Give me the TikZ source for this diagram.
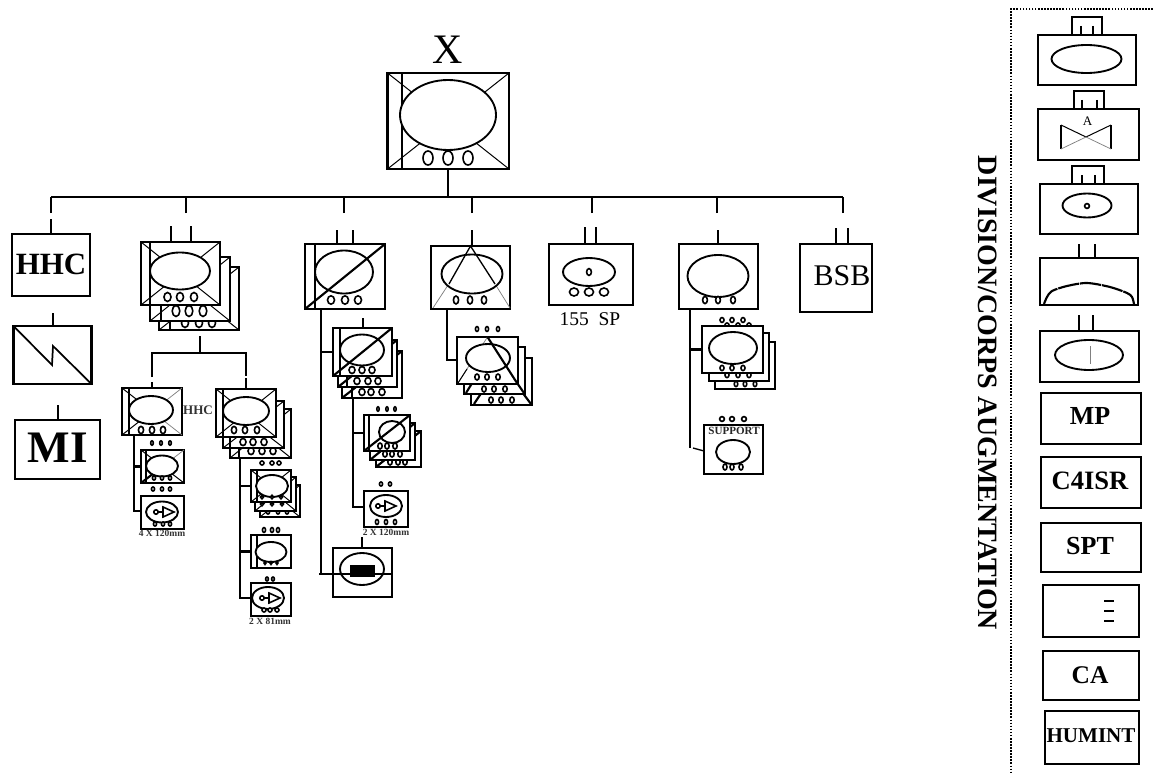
\documentclass[tikz,border=0pt]{standalone}
\usepackage{fontspec}
\setmainfont{Liberation Serif}
\newcommand{\fz}[1]{\fontsize{#1}{#1}\selectfont}
\tikzset{
  boxst/.style={draw=black,fill=white,line width=1.6pt,inner sep=0pt,outer sep=0pt},
  ln/.style={draw=black,line width=1.6pt},
  thinl/.style={draw=black,line width=.75pt},
  greyl/.style={draw=black!50,line width=.55pt},
  sym/.style={draw=black,fill=white,line width=1.4pt},
  ring/.style={draw=black,fill=white,line width=1.2pt},
  lbl/.style={inner sep=0pt,outer sep=0pt,text=black},
  bl/.style={lbl,font=\bfseries},
}
\newcommand{\bx}[5]{%
  \pgfmathsetmacro\bw{(#4-#2)*.75}\pgfmathsetmacro\bh{(#5-#3)*.75}%
  \pgfmathsetmacro\bcx{(#2+#4)/2}\pgfmathsetmacro\bcy{(#3+#5)/2}%
  \node[boxst,minimum width=\bw pt,minimum height=\bh pt] (#1) at (\bcx,\bcy) {};}
\newcommand{\el}[4]{\draw[sym] (#1,#2) ellipse [x radius=#3,y radius=#4];}
\newcommand{\ooo}[4]{\foreach \oox in {#1} {\draw[ring] (\oox,#2) ellipse [x radius=#3,y radius=#4];}}
% corner-to-corner cross in a box node
\newcommand{\xd}[1]{\draw[thinl] (#1.north west) -- (#1.south east) (#1.north east) -- (#1.south west);}
\newcommand{\slsh}[1]{\draw[ln] (#1.south west) -- (#1.north east);}
\newcommand{\vbar}[2]{\coordinate (vb) at (#2,0); \draw[ln] (vb |- #1.north) -- (vb |- #1.south);}
\newcommand{\mortar}[2]{%
  \draw[ln,line width=1.2pt] (#1-6,#2) circle [radius=2.2];
  \draw[ln,line width=1.2pt] (#1-3.5,#2) -- (#1+2,#2);
  \draw[ln,line width=1.2pt] (#1+1,#2-5) -- (#1+12,#2) -- (#1+1,#2+5) -- cycle;}
\begin{document}
\begin{tikzpicture}[x=.75pt,y=-.75pt]
\useasboundingbox (0,0) rectangle (1153,774);

% ---------- commander
\node[lbl,font=\fz{31.5}] (xmark) at (447.5,50) {X};
\bx{cmd}{387.5}{73}{509}{169}
\xd{cmd}
\vbar{cmd}{402}
\el{448}{115}{48}{35}
\ooo{428,448,468}{158}{5}{7}

% ---------- bus
\coordinate (busL) at (51,197);
\coordinate (busR) at (843,197);
\draw[ln] (busL) -- (busR);
\draw[ln] (cmd.south) -- (cmd.south |- busL);
\foreach \dn/\dx in {a/51,b/186,c/344,d/472,e/592,f/717,g/843} {
  \coordinate (drop\dn) at (\dx,213);
  \draw[ln] (drop\dn) -- (drop\dn |- busL);
}

% ---------- HHC / signal / MI
\bx{hhc}{12}{234}{90}{296}
\node[bl,font=\bfseries\fz{23.2}] (hhctxt) at (51,264) {HHC};
\coordinate (s1) at (51,219); \draw[ln] (s1) -- (s1 |- hhc.north);
\bx{sig}{13.5}{326}{91.5}{384}
\draw[ln,line width=1.3pt] (sig.north west) -- (52,365) -- (53,346) -- (sig.south east);
\coordinate (s2) at (53,313); \draw[ln] (s2) -- (s2 |- sig.north);
\bx{mi}{15}{420}{100}{479}
\node[bl,font=\bfseries\fz{33.8}] (mitxt) at (57.5,448) {MI};
\coordinate (s3) at (58,405); \draw[ln] (s3) -- (s3 |- mi.north);

% ---------- stack 2
\bx{b3}{159}{267}{239}{330} \xd{b3} \vbar{b3}{170}
\ooo{185,199,212}{323}{3.5}{4.5}
\bx{b2}{150}{257}{230}{321} \xd{b2} \vbar{b2}{161}
\ooo{176,189,203}{311}{3.8}{5.5}
\bx{b1}{141}{242}{220}{305} \xd{b1} \vbar{b1}{150}
\el{180}{271}{30}{18.5}
\ooo{167.5,180,194}{297}{3.5}{4.5}
\foreach \sx in {171,191} {\coordinate (sb) at (\sx,226); \draw[ln] (sb) -- (sb |- b1.north);}
\coordinate (stb) at (200,336);
\coordinate (stbj) at (200,353);
\coordinate (dbL) at (152,377);
\coordinate (dbR) at (246,376);
\draw[ln] (stb) -- (stbj);
\draw[ln] (dbL) -- (dbL |- stbj) -- (dbR |- stbj) -- (dbR);

% ---------- box A (HHC)
\bx{ha}{122}{388}{182}{435}
\draw[thinl] (ha.north west) -- (ha.center) (ha.south west) -- (ha.center);
\draw[greyl] (ha.north east) -- (ha.center) (ha.center) -- (ha.south east);
\vbar{ha}{129}
\el{151}{410}{22}{14}
\ooo{141,152,163}{430}{2.6}{3.6}
\node[bl,font=\bfseries\fz{9.8},text=black!80] (hatxt) at (198,410) {HHC};
\coordinate (sha) at (152,382); \draw[ln] (sha) -- (sha |- ha.north);
\coordinate (shb) at (246,378);

\bx{ha1}{141}{450}{184}{483}
\draw[thinl] (ha1.north west) -- (ha1.center) (ha1.center) -- (ha1.south east);
\draw[ln] (ha1.south west) -- (ha1.center);
\draw[greyl] (ha1.center) -- (ha1.north east);
\vbar{ha1}{146}
\el{162}{466}{16}{10.5}
\ooo{154,162,170}{478}{1.6}{2}
\ooo{152,161,170}{443}{1.3}{2.2}
\bx{ha2}{141}{496}{184}{529}
\el{162}{512}{16}{10.5}
\mortar{162}{512}
\ooo{155,163,170}{524}{1.6}{2}
\ooo{153,162,170}{489}{1.6}{2}
\node[bl,font=\bfseries\fz{7.1},text=black!80] (ha2txt) at (162,533.5) {4 X 120mm};
\coordinate (stA) at (134,511);
\draw[ln] (stA |- ha.south) -- (stA) -- (stA -| ha2.west);
\draw[ln] (stA |- ha1.west) -- (ha1.west);

% ---------- stack B
\bx{hb3}{230}{409}{291}{458} \xd{hb3} \vbar{hb3}{239}
\ooo{251,262,273}{451}{3}{3.6}
\bx{hb2}{223}{401}{284}{448} \xd{hb2} \vbar{hb2}{230}
\ooo{243,253,264}{442}{3}{3.6}
\bx{hb1}{216}{389}{276}{437} \xd{hb1} \vbar{hb1}{223}
\el{246}{411}{23}{14}
\ooo{234,245,257}{430}{2.6}{3.6}
\draw[ln] (shb) -- (shb |- hb1.north);

\bx{hc3}{260}{485}{300}{517} \xd{hc3}
\ooo{268,278,287}{512}{1.6}{2}
\bx{hc2}{255}{477}{296}{511} \xd{hc2}
\ooo{262,272,282}{504}{1.5}{1.8}
\bx{hc1}{251}{470}{291}{502} \xd{hc1} \vbar{hc1}{257}
\el{272}{486}{16}{11}
\ooo{262,272,281}{497}{1.5}{1.8}
\ooo{262,272,279}{463}{2}{2}
\bx{hd}{251}{535}{291}{568} \vbar{hd}{257}
\el{271}{552}{15.5}{10}
\ooo{265,271,277}{563}{1}{1.4}
\ooo{264,272,278}{530}{1.6}{2.4}
\bx{he}{251}{583}{291}{616}
\el{268}{598}{16}{11}
\mortar{268}{598}
\ooo{264,270,277}{610}{2}{2}
\ooo{267,273}{579}{1.4}{2}
\node[bl,font=\bfseries\fz{7.1},text=black!80] (hetxt) at (270,621) {2 X 81mm};
\coordinate (stB) at (240,598);
\draw[ln] (stB |- hb3.south) -- (stB) -- (stB -| he.west);
\draw[ln] (stB |- hc1.west) -- (hc1.west);
\draw[ln] (stB |- hd.west) -- (hd.west);

% ---------- column 3
\bx{c1}{305}{244}{385}{309} \vbar{c1}{315}
\el{344}{272}{29}{21.5}
\slsh{c1}
\ooo{331,345,358}{300}{3.5}{4.2}
\foreach \sx in {337,353} {\coordinate (sc) at (\sx,230); \draw[ln] (sc) -- (sc |- c1.north);}

\bx{cs3}{342}{351}{402}{398} \slsh{cs3} \vbar{cs3}{352}
\ooo{362,371,382}{392}{3}{3.5}
\bx{cs2}{338}{340}{397}{387} \slsh{cs2} \vbar{cs2}{347}
\ooo{357,368,378}{381}{3}{3.5}
\bx{cs1}{333}{328}{392}{376} \vbar{cs1}{340}
\el{362}{350}{22}{15.5}
\slsh{cs1}
\ooo{352,362,372}{370}{3}{3.5}
\coordinate (scs) at (363,318); \draw[ln] (scs) -- (scs |- cs1.north);

\bx{cd3}{376}{431}{421}{467} \slsh{cd3}
\ooo{390,398,405}{462}{2.2}{3}
\bx{cd2}{370}{423}{415}{460} \slsh{cd2}
\ooo{385,392,400}{454}{2.2}{3}
\bx{cd1}{364}{415}{410}{451} \vbar{cd1}{369}
\el{392}{432}{13}{11}
\slsh{cd1}
\ooo{380,387,395}{446}{2.2}{3}
\ooo{378,387,395}{409}{1.2}{2.2}

\bx{ce}{364}{491}{408}{527}
\el{386}{506}{16}{11}
\mortar{384}{506}
\ooo{377,386,395}{522}{1.6}{2.5}
\ooo{381,390}{484}{1.6}{2}
\node[bl,font=\bfseries\fz{7.1},text=black!80] (cetxt) at (386,532) {2 X 120mm};

\bx{cf}{333}{548}{392}{597}
\el{362}{569}{22}{16}
\node[fill=black,minimum width=18.75pt,minimum height=9pt,inner sep=0pt] (cfbar) at (362.5,571) {};
\coordinate (scf) at (362,537); \draw[ln] (scf) -- (scf |- cf.north);
\coordinate (stC) at (321,574);
\coordinate (cfL) at (319,574);
\draw[ln] (stC |- c1.south) -- (stC);
\draw[ln] (stC |- cs1.west) -- (cs1.west);
\draw[ln] (cfL) -- (cfL -| cf.east);
\coordinate (stD) at (353,507);
\draw[ln] (stD |- cs3.south) -- (stD) -- (stD -| ce.west);
\draw[ln] (stD |- cd1.west) -- (cd1.west);

% ---------- column 4
\bx{d1}{431}{246}{510}{309}
\draw[greyl] (452,279) -- (433,308) (492,279) -- (510,308);
\el{472}{274}{30.5}{19.5}
\draw[thinl,line width=1pt] (449,284) -- (d1.north) -- (495,284);
\ooo{456,470,484}{300}{2.6}{4}
\coordinate (sd) at (472,230); \draw[ln] (sd) -- (sd |- d1.north);

\bx{ds3}{471}{358}{532}{405}
\draw[ln] (474,404) -- (482,392) (522,392) -- (531,404);
\ooo{491,501,512}{400}{2.2}{3}
\bx{ds2}{464}{347}{525}{394}
\draw[ln] (466,393) -- (474,380) (515,380) -- (524,393);
\ooo{484,494,505}{389}{2.2}{3}
\bx{ds1}{457}{337}{518}{384}
\draw[greyl] (458,383) -- (ds1.north);
\el{488}{358}{22}{14}
\draw[thinl] (458,383) -- (467,369);
\draw[ln] (ds1.north) -- (517,383);
\ooo{477,487,498}{377}{2.2}{3}
\ooo{477,487,498}{329}{1.6}{2.4}
\coordinate (stE) at (447,360);
\draw[ln] (stE |- d1.south) -- (stE) -- (stE -| ds1.west);

% ---------- column 5
\bx{e1}{549}{244}{633}{305}
\el{589}{272}{26}{14}
\ooo{589}{272}{2.4}{3.4}
\ooo{574,589,604}{292}{4.5}{4}
\foreach \sx in {585,596} {\coordinate (se) at (\sx,227); \draw[ln] (se) -- (se |- e1.north);}
\node[lbl,font=\fz{14.6}] (e1txt) at (590,319) {155\ \ SP};

% ---------- column 6
\bx{f1}{679}{244}{758}{309}
\el{718}{276}{30.5}{21}
\ooo{705,718,733}{300}{2.4}{3.6}
\coordinate (sf) at (718,230); \draw[ln] (sf) -- (sf |- f1.north);

\bx{fs3}{715}{342}{775}{389}
\ooo{736,745,755}{384}{1.8}{2.6}
\bx{fs2}{709}{333}{769}{381}
\ooo{727,738,749}{375}{2}{2.6}
\ooo{727,738,749}{325}{2}{2}
\bx{fs1}{702}{326}{763}{373}
\el{733}{348}{24}{16}
\ooo{722,732,743}{368}{2}{2.6}
\ooo{722,732,743}{320}{2}{2.4}

\bx{fp}{704}{425}{763}{474}
\node[bl,font=\bfseries\fz{8.3},text=black!85] (fptxt) at (734,431) {SUPPORT};
\el{733}{452}{17}{12}
\ooo{725,732,741}{467}{2}{3}
\ooo{722,732,744}{419}{2.4}{2.4}
\coordinate (stF) at (690,448);
\coordinate (fpL) at (693,448);
\coordinate (fpR) at (704,451);
\draw[ln] (stF |- f1.south) -- (stF);
\draw[ln] (stF |- fs1.west) -- (fs1.west);
\draw[ln,line width=1pt] (fpL) -- (fpR);

% ---------- BSB
\bx{bsb}{800}{244}{872}{312}
\node[lbl,font=\fz{22.5}] (bsbtxt) at (842,276) {BSB};
\foreach \sx in {836,848} {\coordinate (sg) at (\sx,228); \draw[ln] (sg) -- (sg |- bsb.north);}

% ---------- augmentation frame
\coordinate (frT) at (1153,9);
\coordinate (frC) at (1011,9);
\coordinate (frB) at (1011,774);
\draw[line width=1.6pt,dash pattern=on 1.2pt off 1.1pt] (frT) -- (frC) -- (frB);
\node[bl,font=\bfseries\fz{21},rotate=-90] (augtxt) at (988,393) {DIVISION/CORPS AUGMENTATION};

\bx{r1t}{1072}{17}{1102}{35}
\bx{r1}{1038}{35}{1136}{85}
\foreach \sx in {1081,1093} {\coordinate (t) at (\sx,26); \draw[ln] (t) -- (t |- r1.north);}
\el{1086.5}{59}{35}{14}

\bx{r2t}{1074}{91}{1104}{109}
\bx{r2}{1038}{109}{1139}{160}
\foreach \sx in {1082,1097} {\coordinate (t) at (\sx,100); \draw[ln] (t) -- (t |- r2.north);}
\node[lbl,font=\fz{9.8}] (r2txt) at (1087.5,121) {A};
\coordinate (v1) at (1061,125); \coordinate (v2) at (1061,149);
\coordinate (v3) at (1111,125); \coordinate (v4) at (1111,149);
\draw[ln] (v1) -- (v2) (v3) -- (v4);
\draw[thinl] (v1) -- (1086,137) (v3) -- (1086,137);
\draw[greyl] (1086,137) -- (v2) (1086,137) -- (v4);

\bx{r3t}{1072}{166}{1104}{184}
\bx{r3}{1040}{184}{1138}{234}
\foreach \sx in {1082,1095} {\coordinate (t) at (\sx,175); \draw[ln] (t) -- (t |- r3.north);}
\el{1087}{205.5}{24.5}{12}
\ooo{1087}{206}{2.4}{2.4}

\bx{r4}{1040}{258}{1138}{305}
\foreach \sx in {1079,1095} {\coordinate (t) at (\sx,244); \draw[ln] (t) -- (t |- r4.north);}
\draw[ln,dash pattern=on 16pt off .7pt] plot[smooth] coordinates {(1044,304) (1047,297) (1052,291) (1067,286) (1087,283) (1110,287) (1127,293) (1132,297) (1134,304)};

\bx{r5}{1040}{331}{1139}{382}
\foreach \sx in {1079,1093} {\coordinate (t) at (\sx,315); \draw[ln] (t) -- (t |- r5.north);}
\el{1089}{355}{34}{15}
\draw[greyl] (1090,346) -- (1090,364);

\bx{r6}{1041}{393}{1141}{444}
\node[bl,font=\bfseries\fz{19.5}] (r6txt) at (1090,416) {MP};
\bx{r7}{1041}{457}{1141}{508}
\node[bl,font=\bfseries\fz{19.9}] (r7txt) at (1090,481) {C4ISR};
\bx{r8}{1041}{523}{1141}{572}
\node[bl,font=\bfseries\fz{19.5}] (r8txt) at (1090,546) {SPT};
\bx{r9}{1043}{585}{1139}{637}
\foreach \ly in {601,611,621} {\coordinate (t) at (1104,\ly); \draw[ln] (t) -- ++(10,0);}
\bx{r10}{1043}{651}{1139}{700}
\node[bl,font=\bfseries\fz{19.1}] (r10txt) at (1090,675) {CA};
\bx{r11}{1045}{711}{1139}{764}
\node[bl,font=\bfseries\fz{15.8}] (r11txt) at (1091,736) {HUMINT};
\end{tikzpicture}
\end{document}
